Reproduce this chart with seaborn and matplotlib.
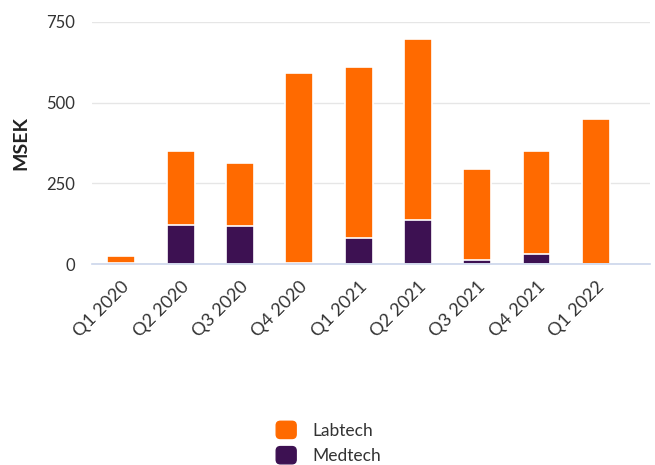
import matplotlib
matplotlib.use("Agg")
import matplotlib.pyplot as plt
from matplotlib.patches import Patch, FancyBboxPatch
from matplotlib.legend_handler import HandlerPatch
import seaborn as sns
import pandas as pd

quarters = ["Q1 2020", "Q2 2020", "Q3 2020", "Q4 2020", "Q1 2021",
            "Q2 2021", "Q3 2021", "Q4 2021", "Q1 2022"]
labtech = [24, 228, 195, 590, 530, 561, 282, 319, 449]
medtech = [2, 122, 118, 2, 80, 136, 12, 31, 0]

orange = "#ff6a00"
purple = "#3d1152"

df = pd.DataFrame({"Quarter": quarters, "Labtech": labtech, "Medtech": medtech})
df["Total"] = df["Labtech"] + df["Medtech"]

sns.set_style("white")
plt.rcParams["font.family"] = ["Lato", "DejaVu Sans"]

fig = plt.figure(figsize=(6.55, 4.65), dpi=100)
ax = fig.add_axes([0.14, 0.432, 0.852, 0.521])

sns.barplot(data=df, x="Quarter", y="Total", color=orange, width=0.47,
            edgecolor="white", linewidth=1.2, saturation=1, ax=ax)
sns.barplot(data=df, x="Quarter", y="Medtech", color=purple, width=0.47,
            edgecolor="white", linewidth=1.2, saturation=1, ax=ax)

ax.set_ylim(0, 750)
ax.set_yticks([0, 250, 500, 750])
ax.set_xlim(-0.5, 8.91)
ax.yaxis.grid(True, color="#e6e6e6", linewidth=1)
ax.set_axisbelow(True)
for s in ["top", "right", "left"]:
    ax.spines[s].set_visible(False)
ax.spines["bottom"].set_color("#ccd6eb")
ax.spines["bottom"].set_linewidth(1.2)
ax.tick_params(axis="y", length=0, labelsize=12, labelcolor="#333333", pad=12)
ax.tick_params(axis="x", length=0, labelsize=13, labelcolor="#333333", pad=10)
plt.setp(ax.get_xticklabels(), rotation=45, ha="right", rotation_mode="anchor")
ax.set_xlabel("")
ax.set_ylabel("MSEK", fontsize=14, fontweight="bold", color="#222222", labelpad=12)


def rounded_square(legend, orig_handle, xdescent, ydescent, width, height, fontsize):
    return FancyBboxPatch((-xdescent, -ydescent), width, height,
                          boxstyle="round,pad=0,rounding_size=3")


handles = [Patch(color=orange), Patch(color=purple)]
fig.legend(handles, ["Labtech", "Medtech"], loc="center", bbox_to_anchor=(0.502, 0.048),
           frameon=False, fontsize=12.5, handletextpad=0.95, labelspacing=0.45,
           labelcolor="#333333", handlelength=1.15, handleheight=1.15,
           handler_map={Patch: HandlerPatch(patch_func=rounded_square)})

fig.savefig("out.png", dpi=100)
